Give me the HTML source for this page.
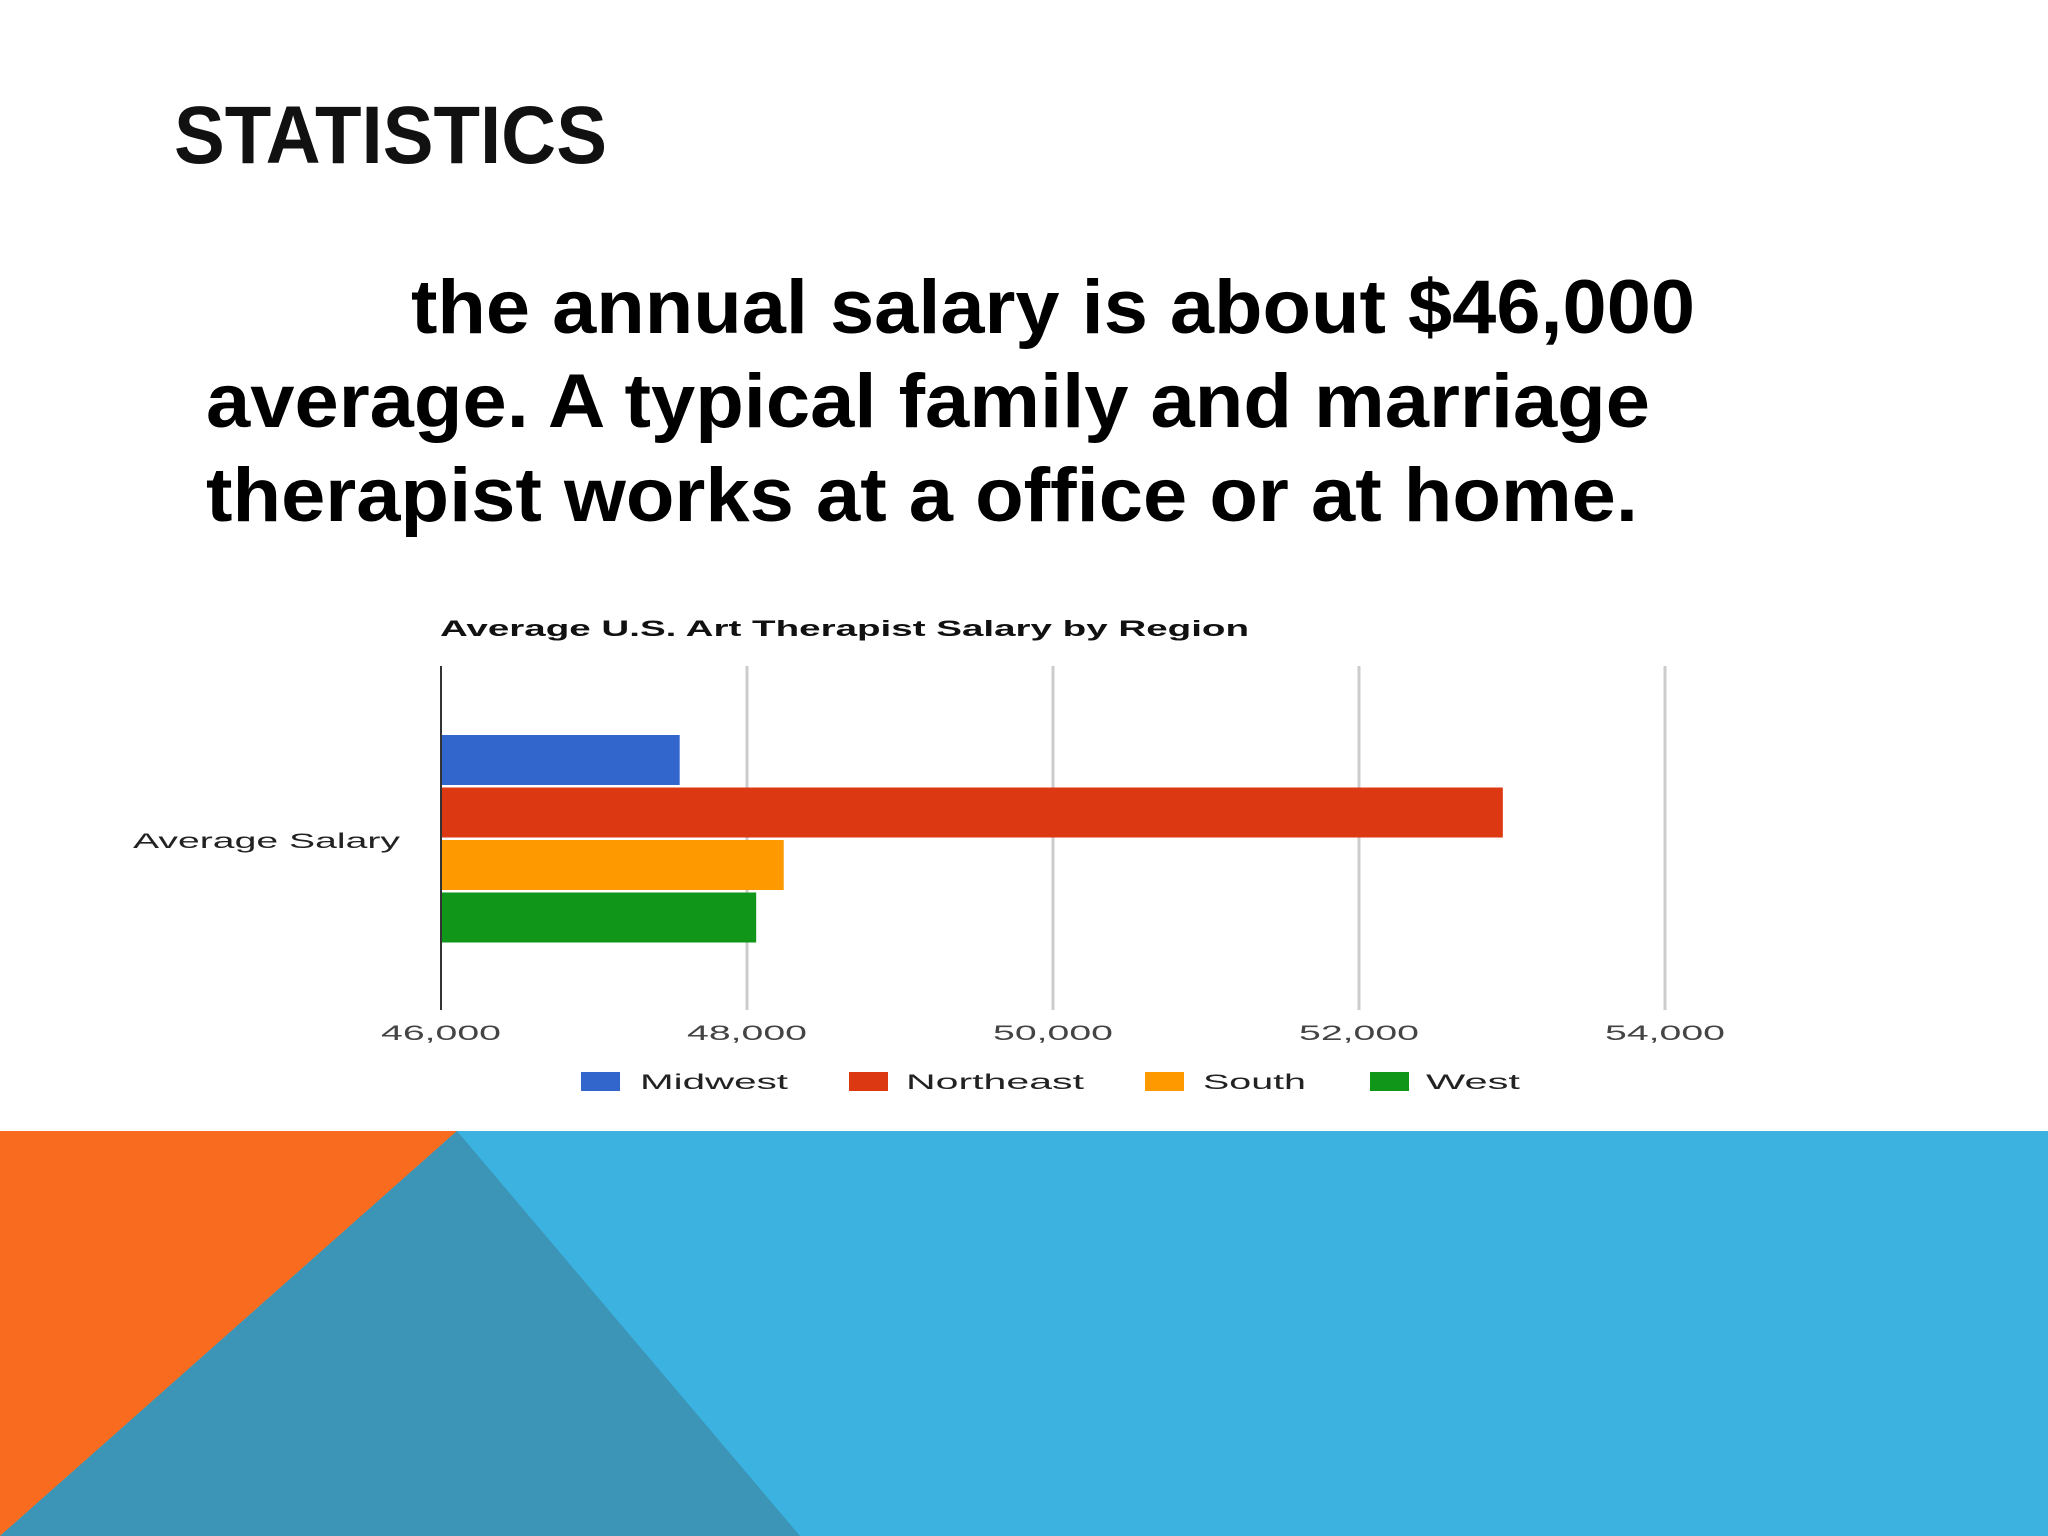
<!DOCTYPE html>
<html><head><meta charset="utf-8"><style>
html,body{margin:0;padding:0;background:#fff;}
svg{display:block;}
text{font-family:"Liberation Sans",sans-serif;}
</style></head><body>
<svg id="slide" width="2048" height="1536" viewBox="0 0 2048 1536">
<rect x="0" y="0" width="2048" height="1536" fill="#fff"/>
<g>
<rect x="0" y="1131" width="2048" height="405" fill="#3BB2E0"/>
<polygon points="0,1131 457,1131 0,1536" fill="#F96B1E"/>
<polygon points="457,1131 800,1536 0,1536" fill="#3C95B6"/>
</g>
<text x="174" y="163" font-size="82" font-weight="bold" textLength="433" lengthAdjust="spacingAndGlyphs" fill="#111">STATISTICS</text>
<g font-weight="bold" font-size="76" fill="#000">
<text x="411" y="333" textLength="1284" lengthAdjust="spacingAndGlyphs">the annual salary is about $46,000</text>
<text x="206" y="427" textLength="1444" lengthAdjust="spacingAndGlyphs">average. A typical family and marriage</text>
<text x="206" y="521" textLength="1432" lengthAdjust="spacingAndGlyphs">therapist works at a office or at home.</text>
</g>
<g id="chart"></g>
</svg>
<script>
const categories = ["Midwest", "Northeast", "South", "West"];
const salaries = [47560, 52940, 48240, 48060];
const colors = ["#3366CC", "#DC3912", "#FF9900", "#109618"];
const ticks = [46000, 48000, 50000, 52000, 54000];
const tickLabels = ["46,000", "48,000", "50,000", "52,000", "54,000"];
const categoryLabel = "Average Salary";
const chartTitle = "Average U.S. Art Therapist Salary by Region";

const NS = "http://www.w3.org/2000/svg";
const g = document.getElementById("chart");
const x0 = 441, pxPer = 306 / 2000, xMin = 46000;
const plotTop = 666, plotBottom = 1010;
function xs(v){ return x0 + (v - xMin) * pxPer; }
function mk(tag, attrs, parent){ const e = document.createElementNS(NS, tag); for (const k in attrs) e.setAttribute(k, attrs[k]); (parent||g).appendChild(e); return e; }

const t = mk("text", {x:440, y:636, "font-size":22, "font-weight":"bold", textLength:809, lengthAdjust:"spacingAndGlyphs", fill:"#111"});
t.textContent = chartTitle;



ticks.forEach((v, i) => {
  if (i > 0) {
    const l = mk("line", {x1:xs(v), x2:xs(v), y1:plotTop, y2:plotBottom, stroke:"#ccc", "stroke-width":3});
    
    
  }
  const w = 120;
  const tx = mk("text", {x:xs(v) - w/2, y:1040, "font-size":21, textLength:w, lengthAdjust:"spacingAndGlyphs", fill:"#444"});
  tx.textContent = tickLabels[i];
  
  
});

const barTop = 735, barStep = 52.5, barH = 50;
categories.forEach((c, i) => {
  const r = mk("rect", {x:x0, y:barTop + i*barStep, width:xs(salaries[i]) - x0, height:barH, fill:colors[i]});
  
  
});

const ax = mk("line", {x1:x0, x2:x0, y1:plotTop, y2:plotBottom, stroke:"#333", "stroke-width":2});



const cl = mk("text", {x:133, y:848, "font-size":21, textLength:267, lengthAdjust:"spacingAndGlyphs", fill:"#222"});
cl.textContent = categoryLabel;



const legSw = [581, 849, 1145, 1370];
const legTx = [[640,148],[906,178],[1203,103],[1426,94]];
categories.forEach((c, i) => {
  const s = mk("rect", {x:legSw[i], y:1072, width:39, height:19, fill:colors[i]});
  
  
  const lt = mk("text", {x:legTx[i][0], y:1089, "font-size":21, textLength:legTx[i][1], lengthAdjust:"spacingAndGlyphs", fill:"#222"});
  lt.textContent = c;
  
  
});
</script>
</body></html>
